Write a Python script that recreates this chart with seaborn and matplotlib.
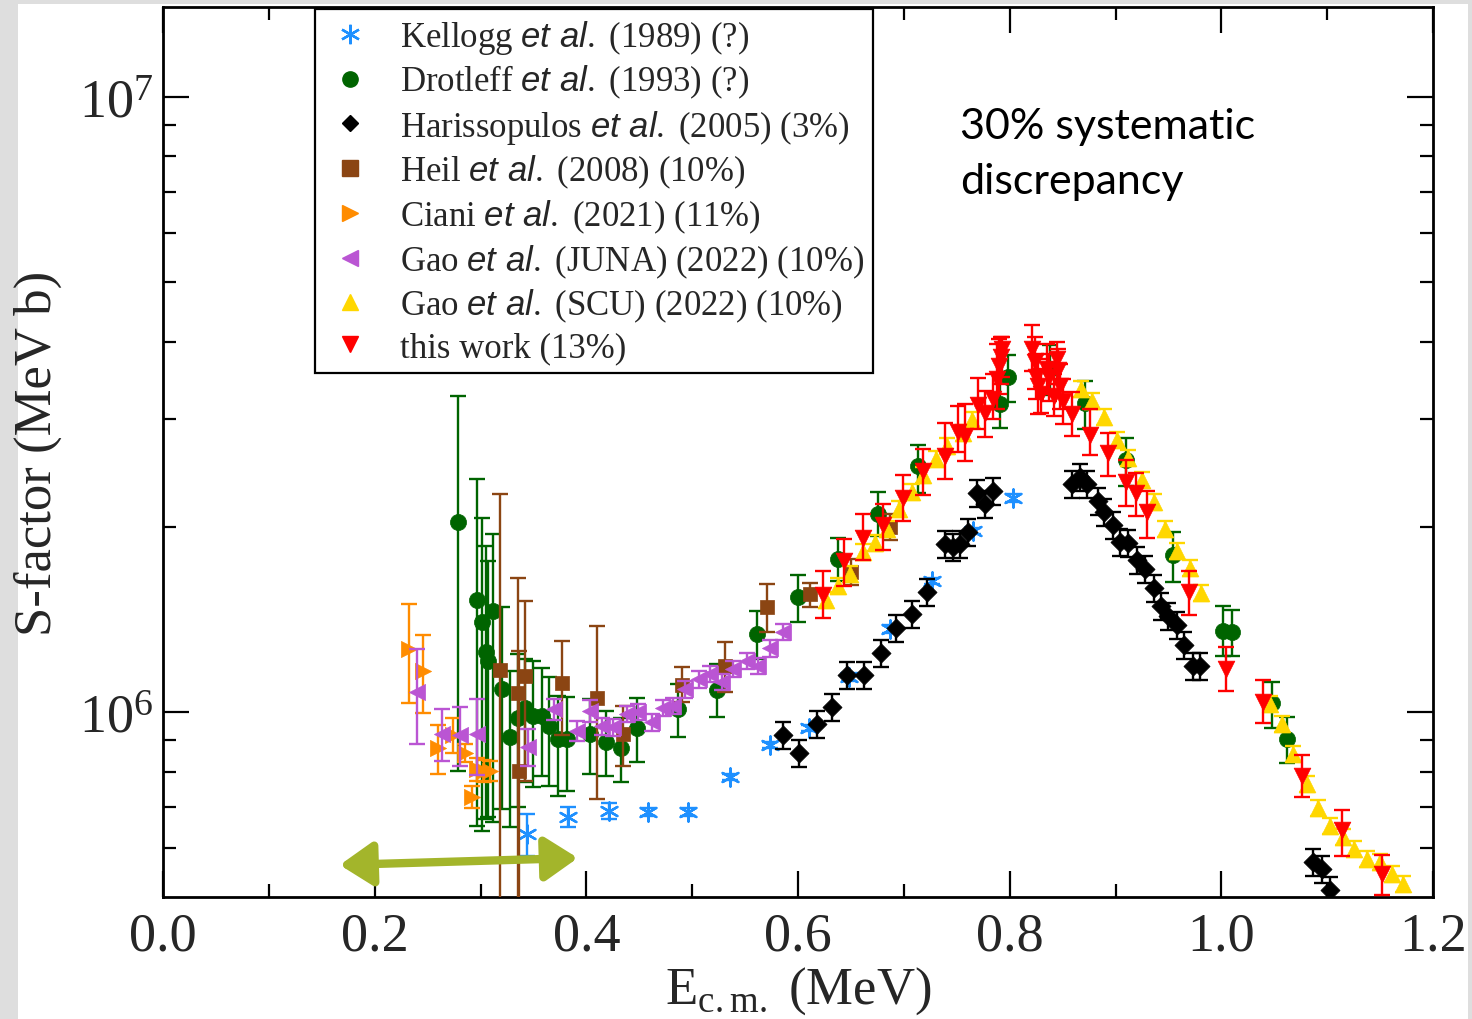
import numpy as np
import pandas as pd
import matplotlib
matplotlib.use("Agg")
import matplotlib.pyplot as plt
import seaborn as sns
from matplotlib.lines import Line2D
from matplotlib.patches import Rectangle
from matplotlib.ticker import MultipleLocator, LogLocator, NullFormatter, FormatStrFormatter

sns.set_style("ticks")
plt.rcParams["font.family"] = ["Liberation Serif", "DejaVu Serif"]
plt.rcParams["mathtext.fontset"] = "custom"
plt.rcParams["mathtext.rm"] = "Liberation Serif"
plt.rcParams["mathtext.it"] = "Liberation Sans:italic"
plt.rcParams["mathtext.bf"] = "Liberation Serif:bold"

UNIT = 1e6  # S-factor values below are in units of 1e6 MeV b

# ---------------- data ----------------
E_kel = [0.344, 0.383, 0.421, 0.458, 0.496, 0.536, 0.574, 0.610, 0.648, 0.687, 0.727, 0.765, 0.803]
S_kel = [0.633, 0.675, 0.690, 0.688, 0.688, 0.784, 0.884, 0.942, 1.140, 1.365, 1.633, 1.969, 2.228]
err_kel = [0.05, 0.025, 0.02, 0.01, 0.01, 0.01, 0.01, 0.01, 0.015, 0.02, 0.02, 0.025, 0.03]

E_dro = [0.279, 0.297, 0.301, 0.305, 0.307, 0.312, 0.320, 0.328, 0.335, 0.342, 0.350, 0.358,
         0.365, 0.373, 0.382, 0.403, 0.419, 0.433, 0.448, 0.487, 0.523, 0.561, 0.600, 0.638,
         0.676, 0.713, 0.791, 0.798, 0.838, 0.871, 0.910, 0.954, 1.002, 1.010, 1.048, 1.062]
S_dro = [2.04, 1.52, 1.40, 1.25, 1.21, 1.46, 1.09, 0.911, 0.978, 1.015, 0.985, 0.985,
         0.949, 0.904, 0.904, 0.921, 0.894, 0.874, 0.942, 1.011, 1.086, 1.339, 1.538, 1.773,
         2.099, 2.512, 3.169, 3.505, 3.612, 3.181, 2.569, 1.800, 1.354, 1.349, 1.034, 0.904]
lo_dro = [0.802, 0.653, 0.640, 0.670, 0.675, 0.662, 0.696, 0.650, 0.701, 0.770, 0.755, 0.787,
          0.758, 0.730, 0.744, 0.793, 0.787, 0.770, 0.829, 0.911, 0.981, 1.219, 1.401, 1.633,
          1.933, 2.271, 2.896, 3.192, 3.277, 2.885, 2.331, 1.627, 1.233, 1.233, 0.942, 0.826]
hi_dro = [3.265, 2.393, 2.068, 1.861, 1.760, 1.947, 1.481, 1.166, 1.243, 1.219, 1.210, 1.179,
          1.140, 1.062, 1.058, 1.050, 1.004, 0.978, 1.054, 1.111, 1.197, 1.459, 1.670, 1.919,
          2.279, 2.717, 3.479, 3.806, 3.952, 3.453, 2.790, 1.962, 1.487, 1.465, 1.119, 0.981]

E_har = [0.586, 0.601, 0.618, 0.632, 0.646, 0.662, 0.678, 0.693, 0.708, 0.722, 0.739, 0.746,
         0.753, 0.761, 0.769, 0.777, 0.784, 0.859, 0.866, 0.873, 0.883, 0.889, 0.898, 0.904,
         0.912, 0.920, 0.928, 0.936, 0.943, 0.950, 0.958, 0.965, 0.973, 0.980, 1.087, 1.095, 1.103]
S_har = [0.917, 0.858, 0.956, 1.019, 1.148, 1.148, 1.247, 1.370, 1.443, 1.567, 1.875, 1.854,
         1.875, 1.962, 2.271, 2.178, 2.288, 2.349, 2.410, 2.349, 2.203, 2.115, 2.015, 1.889,
         1.882, 1.767, 1.708, 1.591, 1.487, 1.432, 1.385, 1.285, 1.188, 1.188, 0.570, 0.556, 0.513]
rel_har = 0.05

E_heil = [0.318, 0.335, 0.336, 0.342, 0.377, 0.410, 0.435, 0.490, 0.531, 0.571, 0.611, 0.650, 0.687]
S_heil = [1.170, 1.074, 0.802, 1.144, 1.115, 1.054, 0.921, 1.106, 1.188, 1.481, 1.555, 1.689, 2.000]
lo_heil = [0.30, 0.30, 0.30, 0.772, 0.917, 0.722, 0.817, 1.038, 1.078, 1.349, 1.481, 1.609, 1.904]
hi_heil = [2.262, 1.651, 1.256, 1.515, 1.304, 1.380, 1.023, 1.184, 1.299, 1.615, 1.621, 1.773, 2.099]

E_cia = [0.232, 0.246, 0.260, 0.274, 0.285, 0.292, 0.297, 0.303, 0.309]
S_cia = [1.266, 1.166, 0.874, 0.917, 0.858, 0.727, 0.808, 0.802, 0.802]
err_cia = [0.23, 0.17, 0.08, 0.06, 0.03, 0.03, 0.035, 0.033, 0.03]

E_juna = [0.240, 0.264, 0.281, 0.297, 0.345, 0.369, 0.391, 0.403, 0.415, 0.425, 0.438, 0.449,
          0.462, 0.472, 0.482, 0.493, 0.506, 0.517, 0.528, 0.539, 0.552, 0.562, 0.574, 0.586]
S_juna = [1.078, 0.921, 0.917, 0.921, 0.877, 1.011, 0.931, 1.004, 0.949, 0.945, 0.993, 1.000,
          0.963, 1.015, 1.023, 1.090, 1.131, 1.153, 1.119, 1.175, 1.210, 1.188, 1.270, 1.349]
err_juna = [0.19, 0.09, 0.10, 0.13, 0.06, 0.04, 0.035, 0.04, 0.03, 0.03, 0.03, 0.03,
            0.03, 0.03, 0.03, 0.035, 0.035, 0.035, 0.035, 0.035, 0.036, 0.036, 0.04, 0.04]

E_scu = [0.626, 0.638, 0.649, 0.661, 0.673, 0.684, 0.695, 0.708, 0.718, 0.730, 0.741, 0.756,
         0.764, 0.867, 0.878, 0.889, 0.901, 0.912, 0.925, 0.936, 0.947, 0.958, 0.970, 0.981,
         1.046, 1.057, 1.068, 1.081, 1.091, 1.103, 1.115, 1.125, 1.138, 1.150, 1.161, 1.172]
S_scu = [1.521, 1.603, 1.676, 1.820, 1.883, 1.984, 2.138, 2.279, 2.428, 2.579, 2.707, 2.842,
         2.984, 3.352, 3.204, 3.017, 2.769, 2.588, 2.384, 2.195, 1.984, 1.827, 1.715, 1.561,
         1.030, 0.956, 0.855, 0.764, 0.698, 0.653, 0.626, 0.599, 0.577, 0.570, 0.545, 0.525]
rel_scu = 0.03

E_red = [0.624, 0.643, 0.661, 0.680, 0.699, 0.718, 0.739, 0.751, 0.758, 0.770, 0.777, 0.784,
         0.788, 0.790, 0.792, 0.793, 0.821, 0.824, 0.825, 0.827, 0.830, 0.835, 0.837, 0.842,
         0.845, 0.846, 0.848, 0.850, 0.859, 0.876, 0.893, 0.910, 0.919, 0.930, 0.969, 1.004,
         1.039, 1.076, 1.114, 1.152]
S_red = [1.550, 1.760, 1.919, 2.014, 2.228, 2.465, 2.608, 2.853, 2.811, 3.157, 3.064, 3.228,
         3.479, 3.653, 3.779, 3.893, 3.893, 3.708, 3.505, 3.390, 3.289, 3.612, 3.505, 3.265,
         3.750, 3.598, 3.390, 3.204, 3.052, 2.821, 2.637, 2.366, 2.271, 2.114, 1.567, 1.175,
         1.038, 0.787, 0.643, 0.545]
lo_red = [1.422, 1.603, 1.767, 1.834, 2.044, 2.254, 2.393, 2.647, 2.559, 2.885, 2.801, 2.995,
          3.110, 3.289, 3.414, 3.505, 3.584, 3.352, 3.228, 3.052, 3.064, 3.289, 3.204, 3.029,
          3.414, 3.265, 3.110, 2.940, 2.811, 2.618, 2.419, 2.163, 2.083, 1.919, 1.438, 1.082,
          0.960, 0.727, 0.583, 0.504]
hi_red = [1.696, 1.911, 2.099, 2.179, 2.428, 2.677, 2.951, 3.145, 3.169, 3.492, 3.327, 3.545,
          3.967, 4.042, 4.072, 4.072, 4.259, 4.072, 3.822, 3.750, 3.612, 3.967, 3.822, 3.545,
          3.997, 3.893, 3.681, 3.479, 3.314, 3.110, 2.842, 2.569, 2.447, 2.288, 1.696, 1.275,
          1.127, 0.851, 0.693, 0.586]

labels = [r"Kellogg $\mathit{et\ al.}\;$(1989) (?)",
          r"Drotleff $\mathit{et\ al.}\;$(1993) (?)",
          r"Harissopulos $\mathit{et\ al.}\;$(2005) (3%)",
          r"Heil $\mathit{et\ al.}\;$(2008) (10%)",
          r"Ciani $\mathit{et\ al.}\;$(2021) (11%)",
          r"Gao $\mathit{et\ al.}\;$(JUNA) (2022) (10%)",
          r"Gao $\mathit{et\ al.}\;$(SCU) (2022) (10%)",
          r"this work (13%)"]
colors = ["#1e90ff", "#006400", "#000000", "#8b4513", "#ff8c00", "#ba55d3", "#ffd700", "#ff0000"]
markers = [(6, 2, 0), "o", "D", "s", ">", "<", "^", "v"]

# ---------------- figure ----------------
fig = plt.figure(figsize=(14.72, 10.2), dpi=100, facecolor="#dedede")
fig.add_artist(Rectangle((18 / 1472, 0), 1450 / 1472, 1015 / 1020, transform=fig.transFigure,
                         facecolor="white", edgecolor="none", zorder=-10))
ax = fig.add_axes([163 / 1472, 122 / 1020, 1270 / 1472, 890 / 1020])
ax.set_facecolor("white")


def draw(i, E, S, lo, hi, s, lw=0.0):
    E = np.asarray(E, float)
    S = np.asarray(S, float) * UNIT
    lo = np.asarray(lo, float) * UNIT
    hi = np.asarray(hi, float) * UNIT
    z = 2 + 2 * i
    ax.errorbar(E, S, yerr=np.vstack([S - lo, hi - S]), fmt="none", ecolor=colors[i],
                elinewidth=1.7, capsize=5.5, capthick=1.7, zorder=z)
    df = pd.DataFrame({"E": E, "S": S})
    kw = dict(data=df, x="E", y="S", marker=markers[i], color=colors[i], s=s, ax=ax,
              zorder=z + 1, legend=False)
    if i == 0:
        sns.scatterplot(linewidth=lw, **kw)
    else:
        sns.scatterplot(edgecolor=colors[i], linewidth=0.5, **kw)


S = np.asarray(S_kel); e = np.asarray(err_kel)
draw(0, E_kel, S, S - e, S + e, 170, lw=1.7)
draw(1, E_dro, S_dro, lo_dro, hi_dro, 135)
S = np.asarray(S_har)
draw(2, E_har, S, S * (1 - rel_har), S * (1 + rel_har), 95)
draw(3, E_heil, S_heil, lo_heil, hi_heil, 115)
S = np.asarray(S_cia); e = np.asarray(err_cia)
draw(4, E_cia, S, S - e, S + e, 135)
S = np.asarray(S_juna); e = np.asarray(err_juna)
draw(5, E_juna, S, S - e, S + e, 135)
S = np.asarray(S_scu)
draw(6, E_scu, S, S * (1 - rel_scu), S * (1 + rel_scu), 145)
draw(7, E_red, S_red, lo_red, hi_red, 145)

# axes
ax.set_xlim(0, 1.2)
ax.set_yscale("log")
ax.set_ylim(0.5003 * UNIT, 14.0 * UNIT)
ax.xaxis.set_major_locator(MultipleLocator(0.2))
ax.xaxis.set_minor_locator(MultipleLocator(0.1))
ax.xaxis.set_major_formatter(FormatStrFormatter("%.1f"))
ax.yaxis.set_major_locator(LogLocator(base=10, numticks=10))
ax.yaxis.set_minor_locator(LogLocator(base=10, subs=np.arange(2, 10), numticks=30))
ax.yaxis.set_minor_formatter(NullFormatter())
ax.tick_params(which="both", direction="in", top=True, right=True, width=1.6, color="black")
ax.tick_params(which="major", length=19, labelsize=39)
ax.tick_params(axis="x", which="major", pad=10)
ax.tick_params(axis="y", which="major", pad=7)
ax.tick_params(which="minor", length=9.5)
for sp in ax.spines.values():
    sp.set_linewidth(2.0)
    sp.set_color("black")

ax.set_ylabel("S-factor (MeV b)", fontsize=38, labelpad=12)
ax.set_xlabel(r"E$_{\mathrm{c{.}m{.}}}$ (MeV)", fontsize=38, labelpad=2)

# legend
handles = []
for i in range(8):
    if i == 0:
        handles.append(Line2D([], [], ls="none", marker=markers[i], color=colors[i],
                              markersize=14, markeredgewidth=1.7))
    else:
        handles.append(Line2D([], [], ls="none", marker=markers[i], color=colors[i],
                              markersize=11 if i != 2 else 8.5))
leg = ax.legend(handles, labels, loc="upper left", bbox_to_anchor=(152 / 1270, 888 / 890),
                borderaxespad=0, frameon=True, fancybox=False, edgecolor="black",
                framealpha=1, fontsize=25, handlelength=1.5, handletextpad=0.7,
                labelspacing=0.21, borderpad=0.25)
leg.get_frame().set_linewidth(1.6)
leg.set_zorder(30)

# annotations
fig.text(960 / 1472, 1 - 108 / 1020, "30% systematic\ndiscrepancy", fontsize=31,
         family="Lato", va="top", ha="left", linespacing=1.55, color="black")
ax.annotate("", xy=(0.392, 0.579 * UNIT), xytext=(0.167, 0.564 * UNIT),
            arrowprops=dict(arrowstyle="<|-|>,head_length=0.9,head_width=0.6",
                            color="#a3b52b", lw=6, mutation_scale=22,
                            shrinkA=0, shrinkB=0), zorder=25)

fig.savefig("out.png", dpi=100, facecolor=fig.get_facecolor())
